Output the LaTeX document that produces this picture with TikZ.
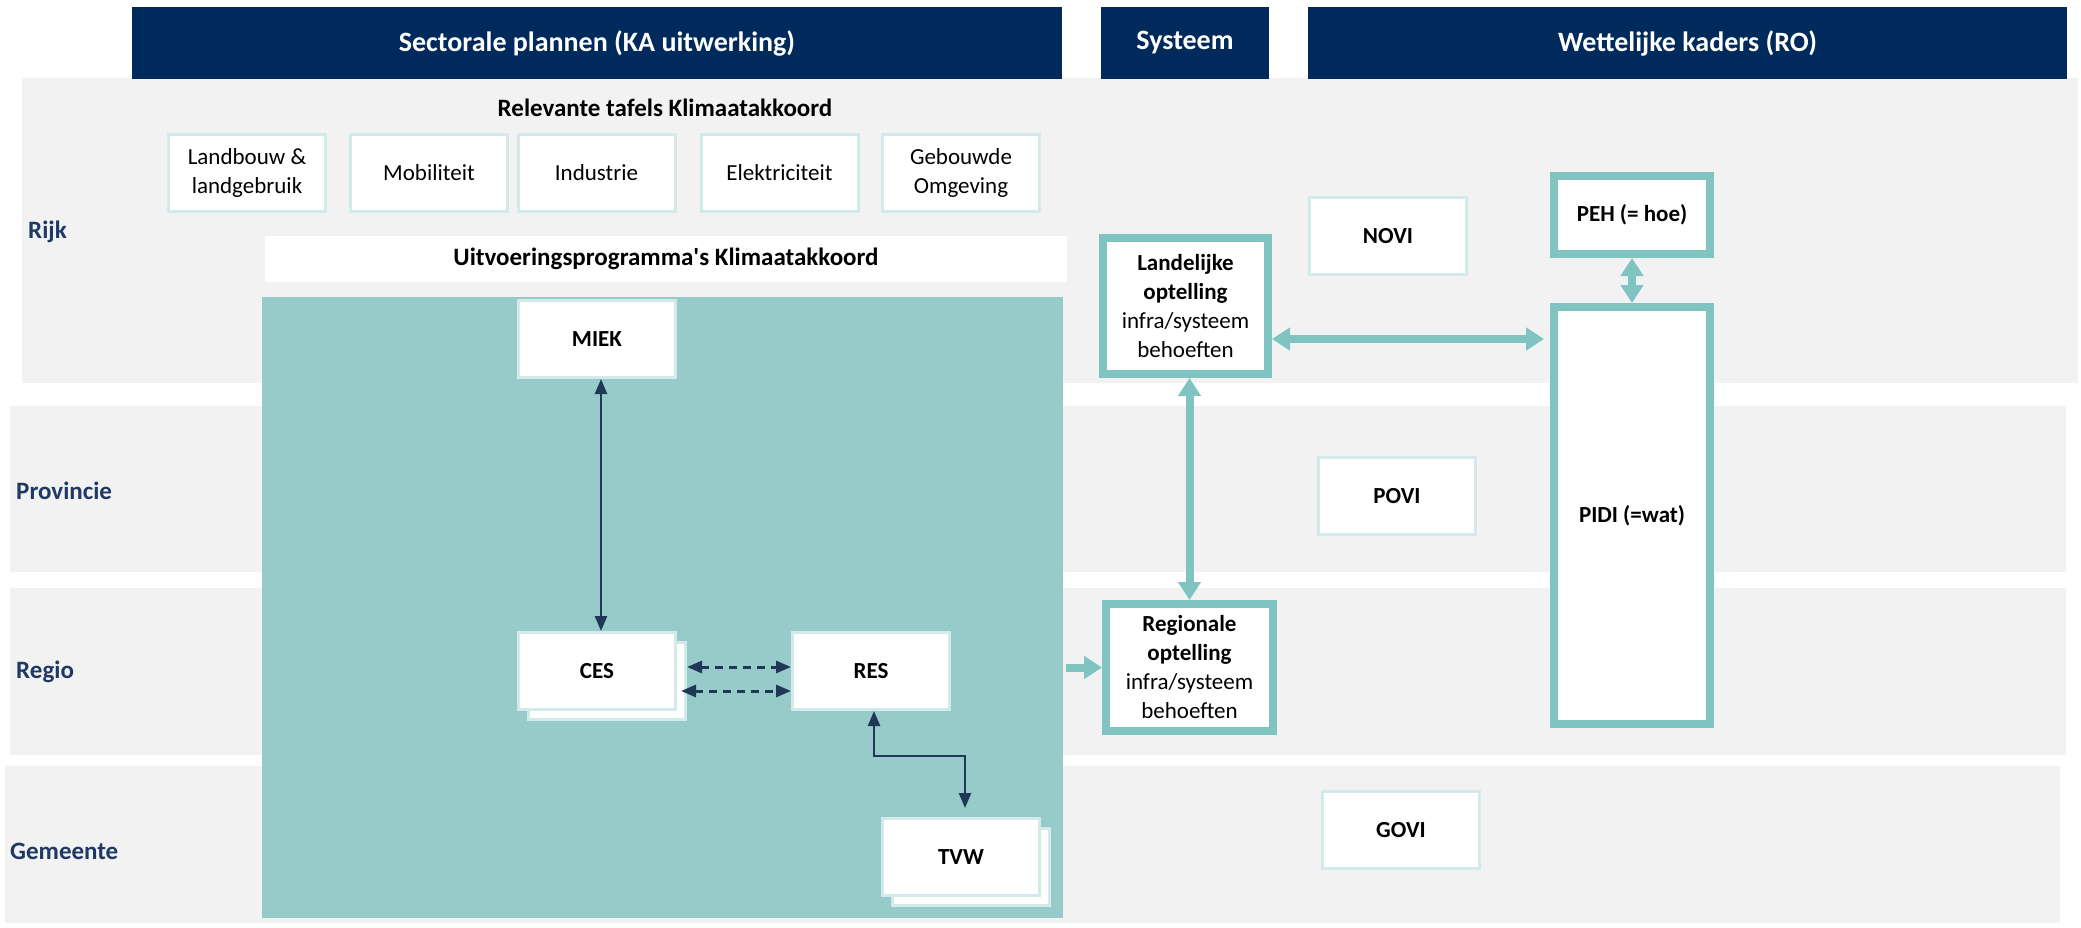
\documentclass[tikz,border=0pt]{standalone}
\usepackage{fontspec}
\setmainfont{Carlito}
\usetikzlibrary{arrows.meta}
\definecolor{kopblauw}{RGB}{0,42,92}
\definecolor{bandgrijs}{RGB}{242,242,242}
\definecolor{vlakteal}{RGB}{150,203,202}
\definecolor{randteal}{RGB}{127,196,193}
\definecolor{lichtrand}{RGB}{210,235,234}
\definecolor{laagtekst}{RGB}{31,56,100}
\definecolor{pijldonker}{RGB}{31,56,85}

\begin{document}
\begin{tikzpicture}[x=1pt, y=-1pt]
\tikzset{
  kop/.style = {fill=kopblauw, text=white, inner sep=0pt, minimum height=72pt,
                font=\fontsize{28}{34}\selectfont\bfseries},
  laag/.style = {anchor=west, inner sep=0pt, text=laagtekst,
                 font=\fontsize{25}{30}\selectfont\bfseries},
  tafel/.style = {draw=lichtrand, line width=3pt, fill=white, inner sep=0pt,
                  minimum width=157pt, minimum height=77pt, align=center,
                  font=\fontsize{23}{29}\selectfont},
  blok/.style = {tafel, font=\fontsize{23}{29}\selectfont\bfseries},
  kader/.style = {draw=randteal, line width=8pt, fill=white, inner sep=0pt,
                  align=center, font=\fontsize{23}{29}\selectfont},
  dun/.style = {draw=pijldonker, line width=2.5pt, >={Triangle[width=12pt,length=15pt]}},
  dik/.style = {draw=randteal, line width=8pt, >={Triangle[width=22pt,length=18pt]}}
}
\useasboundingbox (0,0) rectangle (2081,927);

\fill[bandgrijs] (22,78) rectangle (2078,383);
\fill[bandgrijs] (10,406) rectangle (2066,572);
\fill[bandgrijs] (10,588) rectangle (2066,755);
\fill[bandgrijs] (5,766) rectangle (2060,923);

\node[kop, minimum width=930pt] (sector) at (597,43) {Sectorale plannen (KA uitwerking)};
\node[kop, minimum width=168pt] (systeem) at (1185,43) {Systeem};
\node[kop, minimum width=759pt] (wet) at (1687.5,43) {Wettelijke kaders (RO)};

\node[laag] (rijk) at (28,232) {Rijk};
\node[laag] (provincie) at (16,491) {Provincie};
\node[laag] (regio) at (16,672) {Regio};
\node[laag] (gemeente) at (10,851) {Gemeente};

\node[font=\fontsize{25}{30}\selectfont\bfseries] (tafels) at (665,108) {Relevante tafels Klimaatakkoord};
\node[tafel] (landbouw) at (247,173) {Landbouw \&\\landgebruik};
\node[tafel] (mobiliteit) at (429,173) {Mobiliteit};
\node[tafel] (industrie) at (596.5,173) {Industrie};
\node[tafel] (elektriciteit) at (779.5,173) {Elektriciteit};
\node[tafel] (gebouwd) at (961,173) {Gebouwde\\Omgeving};

\node[fill=white, inner sep=0pt, minimum width=802pt, minimum height=46pt,
      font=\fontsize{25}{30}\selectfont\bfseries] (programma) at (666,259) {Uitvoeringsprogramma\textquotesingle s Klimaatakkoord};
\node[fill=vlakteal, inner sep=0pt, minimum width=801pt, minimum height=621pt] (uitvoering) at (662.5,607.5) {};

\node[blok] (miek) at (597,339) {MIEK};
\node[blok] (cesachter) at (607,681) {};
\node[blok] (ces) at (597,671) {CES};
\node[blok] (res) at (871,671) {RES};
\node[blok] (tvwachter) at (971,867) {};
\node[blok] (tvw) at (961,857) {TVW};

\node[blok] (novi) at (1388,236) {NOVI};
\node[blok] (povi) at (1397,496) {POVI};
\node[blok] (govi) at (1401,830) {GOVI};

\node[kader, minimum width=165pt, minimum height=136pt] (landelijk) at (1185.5,306)
  {\textbf{Landelijke}\\\textbf{optelling}\\infra/systeem\\behoeften};
\node[kader, minimum width=167pt, minimum height=127pt] (regionaal) at (1189.5,667.5)
  {\textbf{Regionale}\\\textbf{optelling}\\infra/systeem\\behoeften};
\node[kader, minimum width=156pt, minimum height=78pt, font=\fontsize{23}{29}\selectfont\bfseries] (peh) at (1632,215) {PEH (= hoe)};
\node[kader, minimum width=156pt, minimum height=417pt, font=\fontsize{23}{29}\selectfont\bfseries] (pidi) at (1632,515.5) {PIDI (=wat)};

\draw[dun, <->] ([xshift=4pt]miek.south) -- ([xshift=4pt]ces.north);
\coordinate (cesboven) at ([yshift=14pt]cesachter.east);
\coordinate (cesonder) at ([xshift=-6pt, yshift=-10pt]cesachter.east);
\draw[dun, <->, dash pattern=on 8pt off 6pt, line width=3pt] (cesboven) -- (cesboven -| res.west);
\draw[dun, <->, dash pattern=on 8pt off 6pt, line width=3pt] (cesonder) -- (cesonder -| res.west);
\draw[dun, <->, shorten >=9pt] ([xshift=3pt]res.south) -- ++(0,45) -| ([xshift=4pt]tvw.north);

\coordinate (landpijl) at ([yshift=-33pt]landelijk.east);
\draw[dik, <->, shorten >=6pt] (landpijl) -- (landpijl -| pidi.west);
\draw[dik, <->] (peh.south) -- (pidi.north);
\draw[dik, <->] (regionaal.north |- landelijk.south) -- (regionaal.north);
\draw[dik, ->, shorten <=3pt] (uitvoering.east |- regionaal.west) -- (regionaal.west);
\end{tikzpicture}
\end{document}
